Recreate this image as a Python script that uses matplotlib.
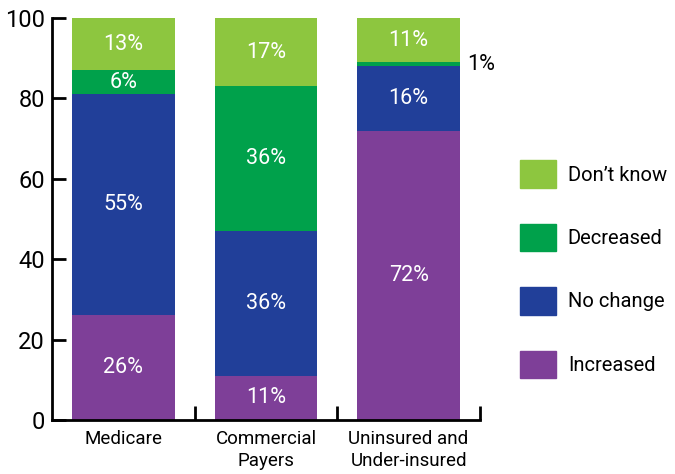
import numpy as np
import matplotlib
matplotlib.use("Agg")
import matplotlib.pyplot as plt
from matplotlib.patches import Patch

plt.rcParams['font.family'] = ['Roboto', 'DejaVu Sans']

categories = ['Medicare', 'Commercial\nPayers', 'Uninsured and\nUnder-insured']
series = ['Increased', 'No change', 'Decreased', "Don\u2019t know"]
increased = [26, 11, 72]
no_change = [55, 36, 16]
decreased = [6, 36, 1]
dont_know = [13, 17, 11]
colors = ['#7E3F98', '#213F99', '#00A14B', '#8DC63F']

fig = plt.figure(figsize=(6.75, 4.74), dpi=100)
ax = fig.add_axes([0.077, 0.114, 0.634, 0.848])

x = np.arange(len(categories))
bottom = np.zeros(len(categories))
for name, vals, col in zip(series, [increased, no_change, decreased, dont_know], colors):
    vals = np.array(vals, dtype=float)
    ax.bar(x, vals, width=0.72, bottom=bottom, color=col, label=name)
    for xi, b, v in zip(x, bottom, vals):
        if v >= 5:
            ax.text(xi, b + v / 2, f'{int(v)}%', ha='center', va='center',
                    color='white', fontsize=15.5)
        else:
            # thin segment, label sits to the right of the bar
            ax.text(xi + 0.41, b + v / 2, f'{int(v)}%', ha='left', va='center',
                    color='black', fontsize=15.5)
    bottom += vals

ax.set_xlim(-0.5, 2.5)
ax.set_ylim(0, 100)
ax.set_yticks([0, 20, 40, 60, 80, 100])
ax.tick_params(axis='y', direction='in', length=10, width=2, labelsize=17, pad=5)
ax.set_xticks(x)
ax.set_xticklabels(categories, fontsize=13.5, linespacing=1.3)
ax.tick_params(axis='x', which='major', length=0, pad=7)
ax.set_xticks([0.5, 1.5, 2.5], minor=True)
ax.tick_params(axis='x', which='minor', direction='in', length=10, width=2)
for side in ['top', 'right']:
    ax.spines[side].set_visible(False)
for side in ['left', 'bottom']:
    ax.spines[side].set_linewidth(2)

handles = [Patch(color=c) for c in colors[::-1]]
fig.legend(handles, series[::-1], loc='center left', bbox_to_anchor=(0.771, 0.432),
           frameon=False, fontsize=14.5, handlelength=1.75, handleheight=1.7,
           labelspacing=1.8, handletextpad=0.6, borderaxespad=0, borderpad=0)

fig.savefig('out.png', dpi=100)
